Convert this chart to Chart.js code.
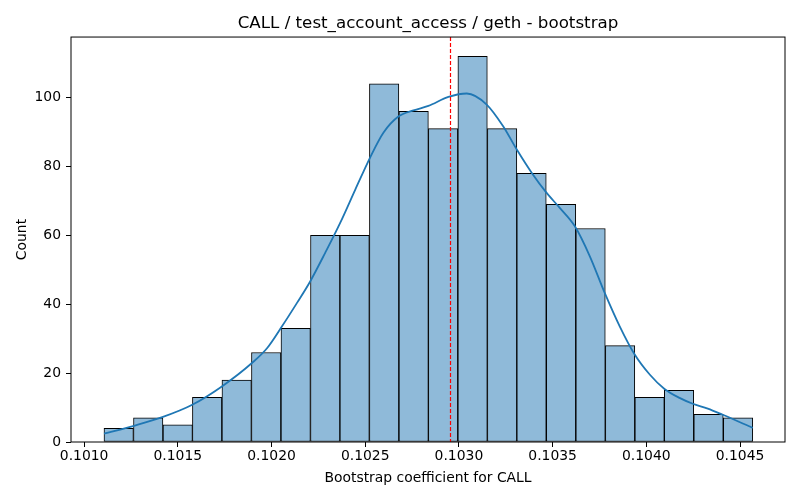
<!DOCTYPE html>
<html>
<head>
<meta charset="utf-8">
<script src="https://cdn.jsdelivr.net/npm/chart.js@4"></script>
<style>
  html, body { margin: 0; padding: 0; background: #fff; }
</style>
</head>
<body>
<canvas id="hist" width="800" height="500"></canvas>
<script>
// histogram bins (edges) and counts
const binEdges = [0.101106, 0.101263, 0.101421, 0.101578, 0.101735, 0.101893, 0.102050, 0.102208,
  0.102365, 0.102522, 0.102680, 0.102837, 0.102994, 0.103152, 0.103309, 0.103466, 0.103624,
  0.103781, 0.103939, 0.104096, 0.104253, 0.104411, 0.104568];
const counts = [4, 7, 5, 13, 18, 26, 33, 60, 60, 104, 96, 91, 112, 91, 78, 69, 62, 28, 13, 15, 8, 7];

// kde curve
const kdeX = [0.101106, 0.101266, 0.101417, 0.101577, 0.101737, 0.101897, 0.101977, 0.102056,
  0.102136, 0.102207, 0.102287, 0.102367, 0.102447, 0.102526, 0.102597, 0.102677, 0.102757,
  0.102837, 0.102944, 0.103042, 0.103148, 0.103236, 0.103308, 0.103388, 0.103467, 0.103538,
  0.103618, 0.103698, 0.103778, 0.103858, 0.103938, 0.104018, 0.104097, 0.104177, 0.104248,
  0.104328, 0.104408, 0.104568];
const kdeY = [2.4, 4.7, 7.2, 10.8, 16.2, 23, 27.3, 33.6, 40.4, 46.7, 55, 63.7, 73.3, 82.6, 89.8,
  94.5, 96.3, 97.6, 100.2, 101.2, 98, 91.7, 85, 78.2, 72.4, 68, 62.7, 54, 43.3, 33.6, 25.4, 19.6,
  15.4, 12.8, 11.1, 9.7, 7.9, 4.1];

const estimate = 0.10295;
const xTicks = [0.1010, 0.1015, 0.1020, 0.1025, 0.1030, 0.1035, 0.1040, 0.1045];
const yTicks = [0, 20, 40, 60, 80, 100];

const font = "'DejaVu Sans', sans-serif";

const barData = counts.map((c, i) => ({ x: (binEdges[i] + binEdges[i + 1]) / 2, y: c }));
const kdeData = kdeX.map((x, i) => ({ x: x, y: kdeY[i] }));

// frame on all four sides + dashed estimate line
const extras = {
  id: 'extras',
  afterDatasetsDraw(chart) {
    const ctx = chart.ctx, a = chart.chartArea;
    const px = Math.round(chart.scales.x.getPixelForValue(estimate)) + 0.5;
    ctx.save();
    ctx.strokeStyle = '#ff0000';
    ctx.lineWidth = 1.2;
    ctx.setLineDash([4, 2]);
    ctx.beginPath();
    ctx.moveTo(px, a.top);
    ctx.lineTo(px, a.bottom);
    ctx.stroke();
    ctx.setLineDash([]);
    ctx.strokeStyle = '#000';
    ctx.lineWidth = 1;
    ctx.strokeRect(a.left, a.top, a.right - a.left, a.bottom - a.top);
    ctx.restore();
  }
};

new Chart(document.getElementById('hist'), {
  data: {
    datasets: [{
      type: 'line',
      data: kdeData,
      borderColor: '#1f77b4',
      borderWidth: 1.8,
      pointRadius: 0,
      cubicInterpolationMode: 'monotone',
      fill: false,
      order: 0,
    }, {
      type: 'bar',
      data: barData,
      backgroundColor: '#8fbad9',
      borderColor: '#000',
      borderWidth: 1,
      borderSkipped: false,
      barPercentage: 1,
      categoryPercentage: 1,
      order: 1,
    }]
  },
  plugins: [extras],
  options: {
    responsive: false,
    animation: false,
    devicePixelRatio: 1,
    layout: { padding: { left: 0, right: 15, top: 0, bottom: 0 } },
    plugins: {
      legend: { display: false },
      tooltip: { enabled: false },
      title: {
        display: true,
        fullSize: false,
        text: 'CALL / test_account_access / geth - bootstrap',
        color: '#000',
        font: { family: font, size: 16.7, weight: 'normal' },
        padding: { top: 14, bottom: 3 },
      }
    },
    scales: {
      x: {
        type: 'linear',
        offset: false,
        min: 0.10093,
        max: 0.10474,
        afterBuildTicks: s => { s.ticks = xTicks.map(v => ({ value: v })); },
        afterFit: s => { s.height = 58; },
        grid: { display: true, offset: false, drawOnChartArea: false, drawTicks: true, tickLength: 5, color: '#000' },
        border: { display: false },
        ticks: {
          color: '#000',
          font: { family: font, size: 13.9 },
          padding: 1,
          maxRotation: 0,
          callback: v => v.toFixed(4),
        },
        title: {
          display: true,
          text: 'Bootstrap coefficient for CALL',
          color: '#000',
          font: { family: font, size: 13.9 },
          padding: { top: 4, bottom: 13 },
        }
      },
      y: {
        type: 'linear',
        min: 0,
        max: 117.6,
        afterBuildTicks: s => { s.ticks = yTicks.map(v => ({ value: v })); },
        afterFit: s => { s.width = 71; },
        grid: { display: true, drawOnChartArea: false, drawTicks: true, tickLength: 5, color: '#000' },
        border: { display: false },
        ticks: {
          color: '#000',
          font: { family: font, size: 13.9 },
          padding: 5,
        },
        title: {
          display: true,
          text: 'Count',
          color: '#000',
          font: { family: font, size: 13.9 },
          padding: { top: 14, bottom: 0 },
        }
      }
    }
  }
});
</script>
</body>
</html>
